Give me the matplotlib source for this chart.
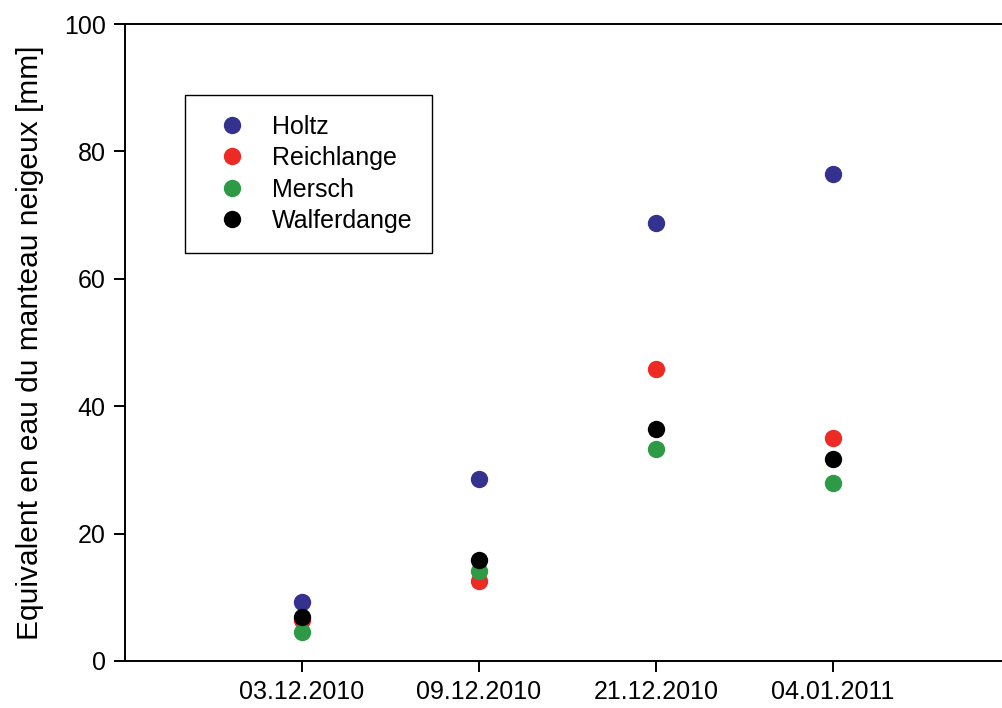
import matplotlib
matplotlib.use("Agg")
import matplotlib.pyplot as plt

dates = ["03.12.2010", "09.12.2010", "21.12.2010", "04.01.2011"]
holtz = [9.2, 28.6, 68.7, 76.4]
reichlange = [6.4, 12.5, 45.9, 35.0]
mersch = [4.6, 14.2, 33.3, 28.0]
walferdange = [6.9, 15.9, 36.4, 31.7]

series = [
    ("Holtz", holtz, "#35318f"),
    ("Reichlange", reichlange, "#ee2a24"),
    ("Mersch", mersch, "#2f9a45"),
    ("Walferdange", walferdange, "#000000"),
]

plt.rcParams["font.family"] = ["Liberation Sans", "DejaVu Sans"]
plt.rcParams["font.size"] = 18

fig = plt.figure(figsize=(10.03, 7.08), dpi=100)
ax = fig.add_axes([125 / 1003, 1 - 661 / 708, 878 / 1003, 637 / 708])

x = list(range(len(dates)))
for name, vals, color in series:
    ax.plot(x, vals, "o", color=color, markersize=12.5, label=name,
            markeredgewidth=0)

ax.set_xlim(-1.0, 3.96)
ax.set_ylim(0, 100)
ax.set_xticks(x)
ax.set_xticklabels(dates)
ax.set_yticks([0, 20, 40, 60, 80, 100])
ax.set_ylabel("Equivalent en eau du manteau neigeux [mm]", fontsize=21.5,
              labelpad=14)

ax.spines["right"].set_visible(False)
for s in ["left", "bottom", "top"]:
    ax.spines[s].set_linewidth(1.4)
ax.tick_params(direction="out", length=8, width=1.4, pad=6)

leg = ax.legend(loc="upper left", bbox_to_anchor=(0.068, 0.889),
                frameon=True, fancybox=False, framealpha=1,
                edgecolor="black", borderpad=0.8, labelspacing=0.3,
                handletextpad=0.48, handlelength=2.2, borderaxespad=0)
leg.get_frame().set_linewidth(1.0)

fig.savefig("out.png", dpi=100)
